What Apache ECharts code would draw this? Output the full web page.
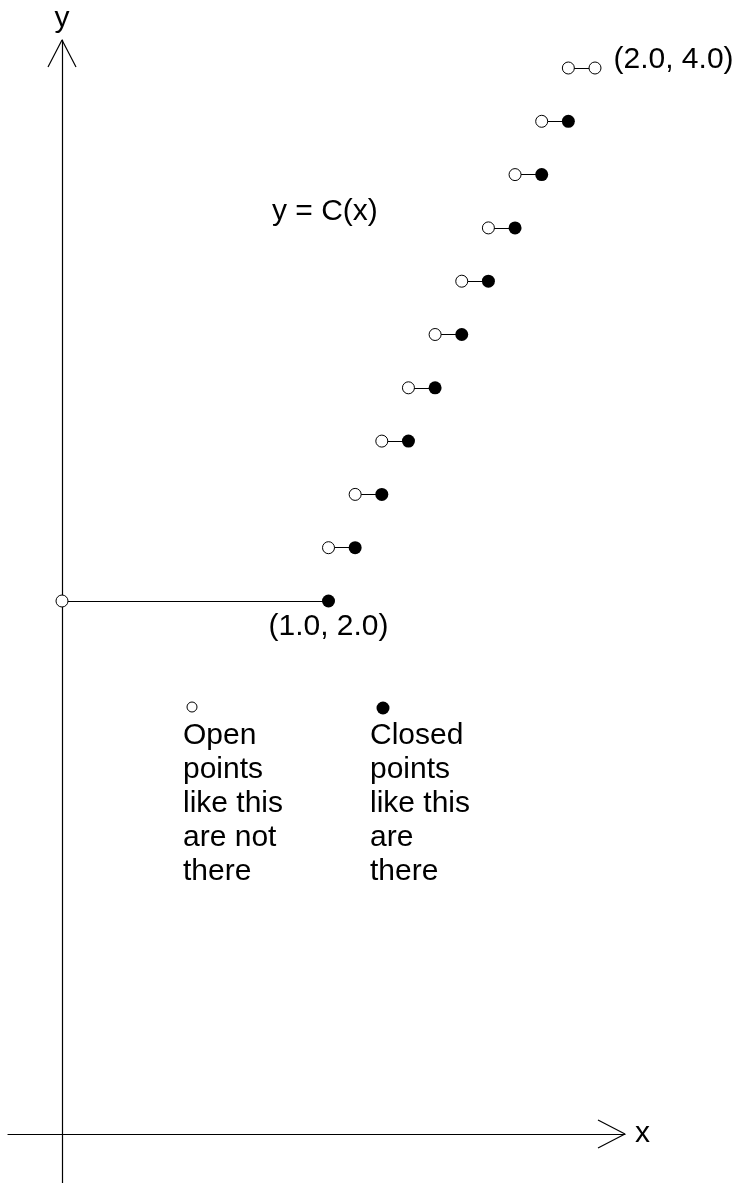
<!DOCTYPE html>
<html>
<head>
<meta charset="utf-8">
<title>y = C(x)</title>
<script src="https://cdn.jsdelivr.net/npm/echarts@6.0.0/dist/echarts.min.js"></script>
<style>
  html, body { margin: 0; padding: 0; background: #fff; }
  #main { width: 739px; height: 1183px; }
</style>
</head>
<body>
<div id="main"></div>
<script>
// pieces of the step function C(x): each runs from stepFrom to stepTo at height stepValue
const stepFrom  = [0.0, 1.0, 1.1, 1.2, 1.3, 1.4, 1.5, 1.6, 1.7, 1.8, 1.9];
const stepTo    = [1.0, 1.1, 1.2, 1.3, 1.4, 1.5, 1.6, 1.7, 1.8, 1.9, 2.0];
const stepValue = [2.0, 2.2, 2.4, 2.6, 2.8, 3.0, 3.2, 3.4, 3.6, 3.8, 4.0];
// right-hand end of each piece: closed (filled) or open
const rightClosed = [true, true, true, true, true, true, true, true, true, true, false];

const FONT = "'Liberation Sans', Arial, sans-serif";

// page layout: where the origin sits and how many px one unit takes
const ORIGIN_X = 62, ORIGIN_Y = 1134, UNIT = 266.5;
const W = 739, H = 1183;
const gridBox = { left: 8, top: 40, right: W - 625, bottom: 0 };

const xMin = -(ORIGIN_X - gridBox.left) / UNIT;
const xMax = (W - gridBox.right - ORIGIN_X) / UNIT;
const yMax = (ORIGIN_Y - gridBox.top) / UNIT;
const yMin = -(H - gridBox.bottom - ORIGIN_Y) / UNIT;

// open V arrow heads at the end of each axis
const arrowLen = 27 / UNIT, arrowHalf = 14 / UNIT;

const segments = [];
const openPts = [];
const closedPts = [];
for (let i = 0; i < stepFrom.length; i++) {
    segments.push({ coords: [[stepFrom[i], stepValue[i]], [stepTo[i], stepValue[i]]] });
    openPts.push([stepFrom[i], stepValue[i]]);
    if (rightClosed[i]) closedPts.push([stepTo[i], stepValue[i]]);
    else openPts.push([stepTo[i], stepValue[i]]);
}

const labelStyle = { color: '#000', fontFamily: FONT, fontSize: 30, lineHeight: 30, opacity: 1 };

// label the start point (1.0, 2.0) and the end point (2.0, 4.0)
const closedData = closedPts.map(function (p, i) {
    if (i === 0) {
        return { value: p, label: Object.assign({ show: true, position: 'bottom', distance: 4,
            formatter: '(' + p[0].toFixed(1) + ', ' + p[1].toFixed(1) + ')' }, labelStyle) };
    }
    return p;
});
const openData = openPts.map(function (p, i) {
    if (i === openPts.length - 1) {
        return { value: p, label: Object.assign({ show: true, position: 'right', distance: 12,
            offset: [0, -8],
            formatter: '(' + p[0].toFixed(1) + ', ' + p[1].toFixed(1) + ')' }, labelStyle) };
    }
    return p;
});

const chart = echarts.init(document.getElementById('main'));

const textStyle = function (t, x, y, align) {
    return {
        type: 'text', x: x, y: y,
        style: { text: t, fill: '#000', font: '30px ' + FONT, align: align || 'left',
                 verticalAlign: 'middle', lineHeight: 34 }
    };
};

chart.setOption({
    animation: false,
    backgroundColor: '#fff',
    grid: gridBox,
    xAxis: {
        type: 'value', min: xMin, max: xMax,
        axisLine: { show: true, onZero: true, lineStyle: { color: '#000', width: 1.2 } },
        axisTick: { show: false }, axisLabel: { show: false }, splitLine: { show: false }
    },
    yAxis: {
        type: 'value', min: yMin, max: yMax,
        axisLine: { show: true, onZero: true, lineStyle: { color: '#000', width: 1.2 } },
        axisTick: { show: false }, axisLabel: { show: false }, splitLine: { show: false }
    },
    series: [
        {
            type: 'line', name: 'y arrow', clip: false, symbol: 'none', silent: true,
            lineStyle: { color: '#000', width: 1.2 },
            data: [[-arrowHalf, yMax - arrowLen], [0, yMax], [arrowHalf, yMax - arrowLen]]
        },
        {
            type: 'line', name: 'x arrow', clip: false, symbol: 'none', silent: true,
            lineStyle: { color: '#000', width: 1.2 },
            data: [[xMax - arrowLen, arrowHalf], [xMax, 0], [xMax - arrowLen, -arrowHalf]]
        },
        {
            type: 'lines', coordinateSystem: 'cartesian2d', silent: true, z: 2,
            lineStyle: { color: '#000', width: 1.2, opacity: 1 },
            data: segments
        },
        {
            type: 'scatter', name: 'open', z: 3, silent: true,
            symbol: 'circle', symbolSize: 12,
            itemStyle: { color: '#fff', borderColor: '#000', borderWidth: 1, opacity: 1 },
            data: openData
        },
        {
            type: 'scatter', name: 'closed', z: 3, silent: true,
            symbol: 'circle', symbolSize: 13,
            itemStyle: { color: '#000', opacity: 1 },
            data: closedData
        }
    ],
    graphic: [
        textStyle('y', 62, 19, 'center'),
        textStyle('x', 635, 1134),
        textStyle('y = C(x)', 272, 212),
        { type: 'circle', shape: { cx: 192, cy: 707, r: 5 },
          style: { fill: '#fff', stroke: '#000', lineWidth: 1 } },
        { type: 'circle', shape: { cx: 383, cy: 708, r: 6.5 },
          style: { fill: '#000' } },
        {
            type: 'text', x: 183, y: 719,
            style: { text: 'Open\npoints\nlike this\nare not\nthere', fill: '#000',
                     font: '30px ' + FONT, lineHeight: 34, verticalAlign: 'top' }
        },
        {
            type: 'text', x: 370, y: 719,
            style: { text: 'Closed\npoints\nlike this\nare\nthere', fill: '#000',
                     font: '30px ' + FONT, lineHeight: 34, verticalAlign: 'top' }
        }
    ]
});
</script>
</body>
</html>
